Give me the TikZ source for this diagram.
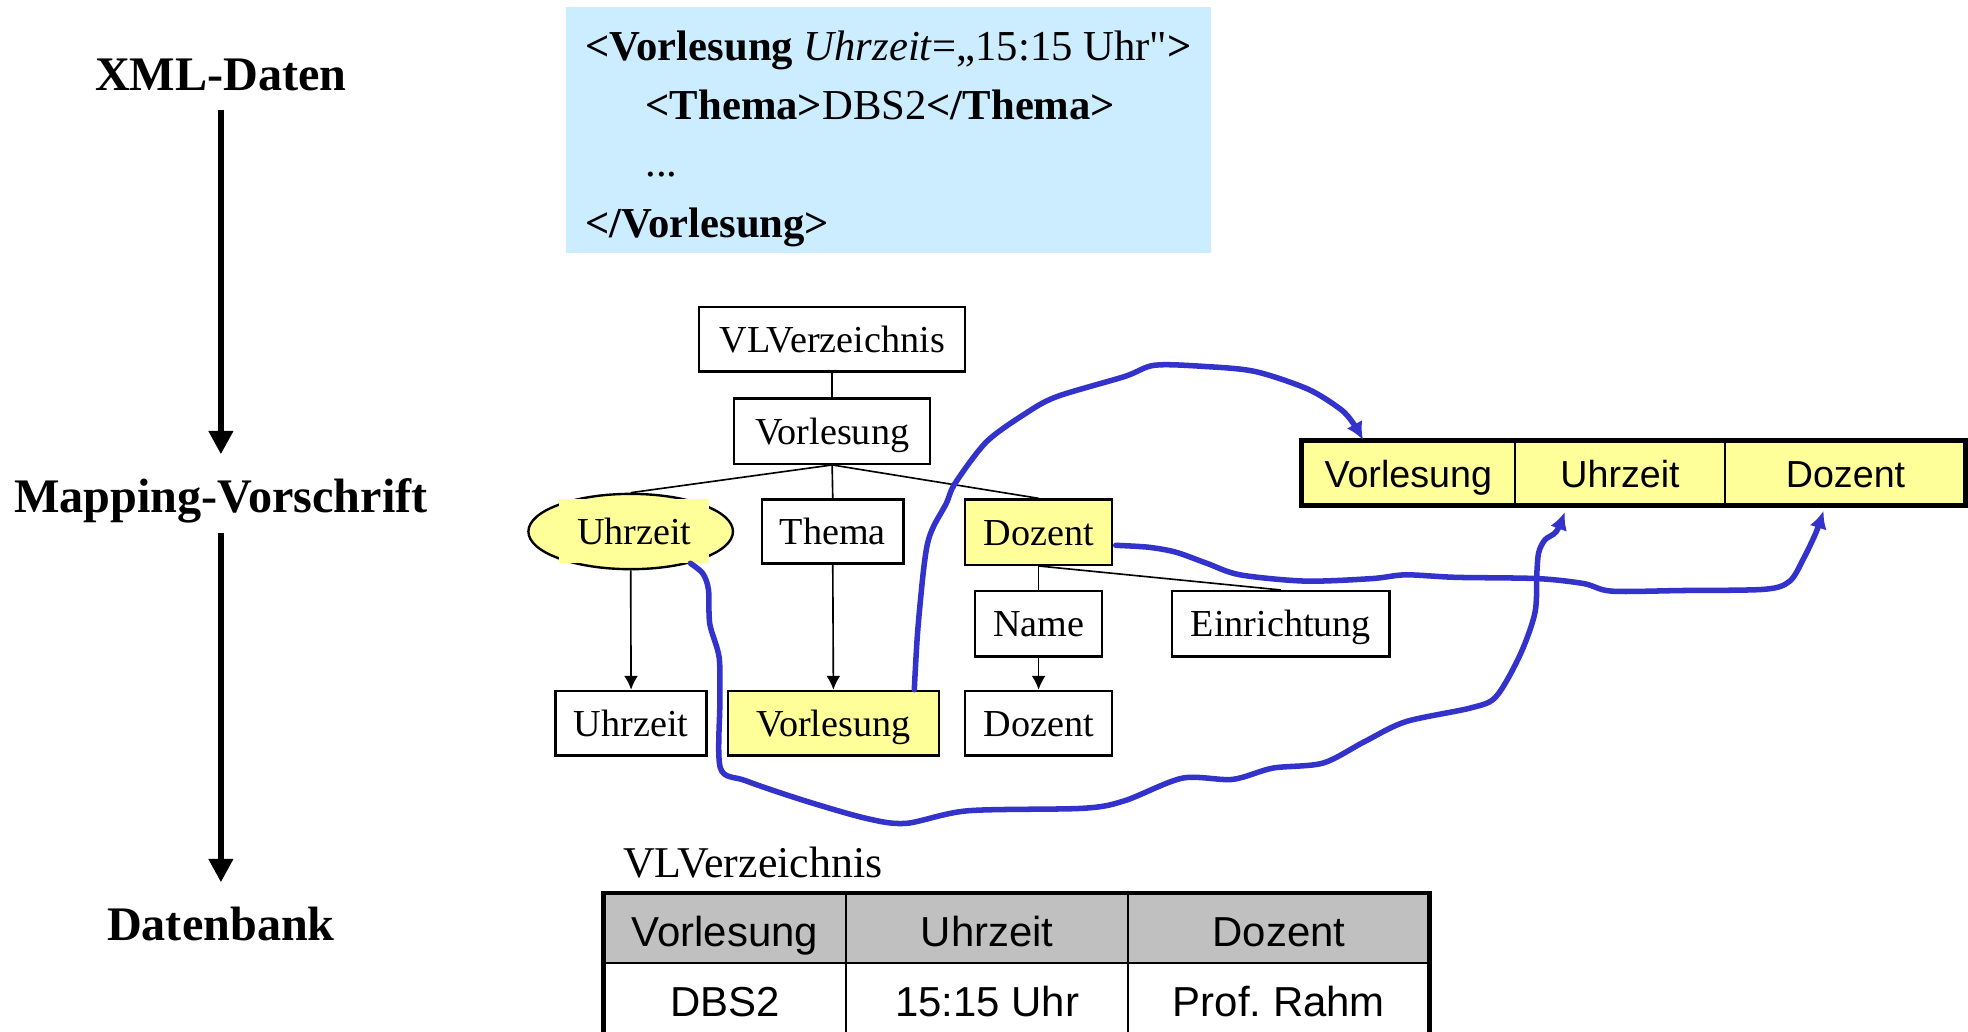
\documentclass[tikz,border=0pt]{standalone}
\usepackage{fontspec}
\setmainfont{Liberation Serif}[Ligatures=TeXOff]
\setsansfont{Liberation Sans}[Ligatures=TeXOff]
\usetikzlibrary{arrows.meta,shapes.geometric,calc}
\definecolor{xmlblue}{RGB}{204,236,255}
\definecolor{hlyellow}{RGB}{255,255,153}
\definecolor{mapblue}{RGB}{51,51,204}
\definecolor{headgray}{RGB}{192,192,192}
\newcommand{\myfs}[1]{\fontsize{#1pt}{#1pt}\selectfont}
\frenchspacing
\begin{document}
\begin{tikzpicture}[x=0.5pt,y=-0.5pt,
  lab/.style={font=\myfs{19.2}\bfseries, inner sep=0pt, anchor=base},
  bigarrow/.style={line width=2.6pt, -{Triangle[length=9.3pt,width=9.3pt]}},
  xmltxt/.style={anchor=base west, inner sep=0pt, font=\myfs{17}},
  tbox/.style={draw, line width=0.95pt, inner sep=0pt, font=\myfs{15.2}, text height=10.5pt, text depth=0pt},
  ybox/.style={tbox, fill=hlyellow},
  tline/.style={line width=0.65pt},
  tarrow/.style={tline, -{Latex[length=5.5pt,width=5.5pt]}},
  map/.style={draw=mapblue, line width=2.2pt, line cap=round, line join=round, -{Latex[length=7pt,width=7pt]}},
  rcell/.style={inner sep=0pt, outer sep=0pt, font=\sffamily\myfs{15}, text height=12pt, text depth=0pt, minimum height=25.75pt},
  bcell/.style={inner sep=0pt, font=\sffamily\myfs{16.7}, anchor=base},
]
\useasboundingbox (0,0) rectangle (1568,822);
\clip (0,0) rectangle (1568,822);

% left column
\node[lab] (lxml) at (176,72.5) {XML-Daten};
\node[lab] (lmap) at (176,408) {Mapping-Vorschrift};
\node[lab] (ldb) at (176,749) {Datenbank};
\draw[bigarrow] ($(lxml.base)+(0,15.5)$) -- ($(lmap.base)+(0,-46)$);
\draw[bigarrow] ($(lmap.base)+(0,17)$) -- ($(ldb.base)+(0,-46)$);

% XML box
\node[fill=xmlblue, minimum width=257pt, minimum height=98pt, inner sep=0pt] (xmlbox) at (708,103.5) {};
\node[xmltxt] (x1) at (466,48) {\textbf{<Vorlesung} \textit{Uhrzeit}=„15:15 Uhr"\textbf{>}};
\node[xmltxt] (x2) at (514,95) {\textbf{<Thema>}DBS2\textbf{</Thema>}};
\node[xmltxt] (x3) at (514,141) {...};
\node[xmltxt] (x4) at (466,189) {\textbf{</Vorlesung>}};

% tree
\node[tbox, minimum width=106pt, minimum height=25.8pt] (vlv) at (663,270.2) {VLVerzeichnis};
\node[tbox, minimum width=78pt, minimum height=26pt] (vorl) at (663,343.5) {Vorlesung};
\node[ellipse, draw, line width=0.95pt, fill=hlyellow, minimum width=81.5pt, minimum height=30pt, inner sep=0pt] (uhr) at (502.5,423.5) {};
\fill[hlyellow] (445.6,397.7) rectangle (565,448.6);
\node[inner sep=0pt, font=\myfs{15.2}, text height=10.5pt, text depth=0pt] (uhrtxt) at (505.3,423.2) {Uhrzeit};
\node[tbox, minimum width=56.5pt, minimum height=25.5pt] (thema) at (663.5,423.5) {Thema};
\node[ybox, minimum width=58.5pt, minimum height=26pt] (doz) at (827.5,424) {Dozent};
\node[tbox, minimum width=50.5pt, minimum height=26pt] (name) at (827.5,497) {Name};
\node[tbox, minimum width=86.5pt, minimum height=26pt] (einr) at (1020.5,497) {Einrichtung};
\node[tbox, minimum width=60.2pt, minimum height=25.75pt] (uhr2) at (502.8,576.25) {Uhrzeit};
\node[ybox, minimum width=84pt, minimum height=25.75pt] (vorl2) at (664,576.25) {Vorlesung};
\node[tbox, minimum width=58.5pt, minimum height=25.75pt] (doz2) at (827.5,576.25) {Dozent};

\draw[tline] (vlv.south) -- (vorl.north);
\draw[tline] (vorl.south) -- (uhr.north);
\draw[tline] (vorl.south) -- (thema.north);
\draw[tline] (vorl.south) -- (doz.north);
\draw[tarrow] (uhr.south) -- (uhr2.north);
\draw[tarrow] (thema.south) -- (vorl2.north);
\draw[tline] (doz.south) -- (name.north);
\draw[tline] (doz.south) -- (einr.north);
\draw[tarrow] (name.south) -- (doz2.north);

% right relation
\fill[hlyellow] (1037,351) rectangle (1565.75,402.5);
\node[rcell, minimum width=85pt] (rv) at (1122,376.75) {Vorlesung};
\node[rcell, minimum width=83.75pt] (ru) at (1290.75,376.75) {Uhrzeit};
\node[rcell, minimum width=95.6pt] (rd) at (1470.4,376.75) {Dozent};
\draw[line width=0.8pt] (rv.north east) -- (rv.south east);
\draw[line width=0.8pt] (ru.north east) -- (ru.south east);
\draw[line width=1.9pt] (rv.north west) rectangle (rd.south east);

% bottom table
\node[anchor=base west, inner sep=0pt, font=\myfs{17.5}] (tname) at (496,699) {VLVerzeichnis};
\fill[headgray] (481,711.5) rectangle (1139,767.6);
\draw[line width=0.8pt] (481,767.6) -- (1139,767.6);
\draw[line width=0.8pt] (674,711.5) -- (674,830);
\draw[line width=0.8pt] (899,711.5) -- (899,830);
\draw[line width=1.9pt] (481,830) -- (481,711.5) -- (1139,711.5) -- (1139,830);
\node[bcell] (hv) at (577.5,754) {Vorlesung};
\node[bcell] (hu) at (786.5,754) {Uhrzeit};
\node[bcell] (hd) at (1019,754) {Dozent};
\node[bcell] (bv) at (577.5,810) {DBS2};
\node[bcell] (bu) at (786.5,810) {15:15 Uhr};
\node[bcell] (bd) at (1019,810) {Prof. Rahm};

% mapping curves
\coordinate (c1s) at ($(vorl2.north east)+(-20.5,0)$);
\coordinate (c1e) at ($(rv.north)+(-36,-0.5)$);
\coordinate (c2s) at (uhr.-28);
\coordinate (c2e) at ($(ru.south)+(-44,5.5)$);
\coordinate (c3s) at ($(doz.east)+(2,10.5)$);
\coordinate (c3e) at ($(rd.south)+(-17.5,4.5)$);

\draw[map] plot[smooth, tension=0.5] coordinates {(c1s) (731,505) (735.5,457) (739,433) (744,419) (754,401) (761,385) (786,352) (817,329.5) (842,316) (896,300) (920,291) (960,292) (1000,296) (1042,310) (1068,326) (1078,337) (c1e)};

\draw[map] plot[smooth, tension=0.5] coordinates {(c2s) (560,457) (564.5,470) (565.5,497) (573,524) (573.5,560) (574,612) (594,622) (640,637.6) (690,652) (722,656) (771,646) (863,644) (896,638) (942,620) (982,621) (1014,612) (1054,608) (1087,591) (1120,575) (1172,564) (1192,555) (1211,522) (1223,488) (1224.5,456) (1226,440) (1231,430) (1240,423.5) (c2e)};

\draw[map] plot[smooth, tension=0.5] coordinates {(c3s) (915,436) (937,440) (962,449) (988,458) (1040,463) (1093,461) (1120,458) (1160,460) (1225,461) (1262,465) (1284,471) (1340,470.5) (1406,469.5) (1426,463) (1437,445) (1447,424) (c3e)};
\end{tikzpicture}
\end{document}
